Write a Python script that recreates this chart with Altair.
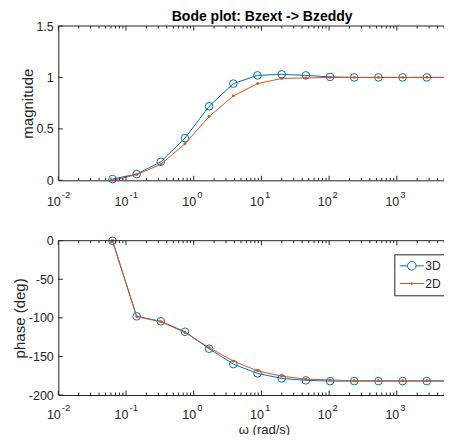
import altair as alt
import pandas as pd

# ---------------- data ----------------
SERIES = ["3D", "2D"]
OMEGA = [0.0631, 0.1436, 0.3268, 0.743, 1.69, 3.85, 8.77, 19.95, 45.4,
         103.4, 235.0, 535.0, 1218.0, 2772.0, 6310.0]
MAG_3D = [0.012, 0.06, 0.18, 0.41, 0.72, 0.94, 1.02, 1.03, 1.02,
          1.005, 1.0, 1.0, 1.0, 1.0, 1.0]
MAG_2D = [0.0, 0.055, 0.155, 0.355, 0.62, 0.82, 0.94, 0.99, 0.995,
          1.0, 1.0, 1.0, 1.0, 1.0, 1.0]
PHASE_3D = [0.0, -98.0, -104.5, -118.0, -140.0, -160.0, -172.0, -178.5, -181.0,
            -182.0, -182.0, -182.0, -182.0, -182.0, -182.0]
PHASE_2D = [0.0, -98.5, -105.0, -119.0, -138.6, -156.0, -168.7, -175.6, -179.5,
            -180.5, -181.5, -181.5, -181.5, -181.5, -181.5]

X_MAJOR = [0.01, 0.1, 1, 10, 100, 1000]
X_TICK_BASE = "10"
X_TICK_EXP = ["-2", "-1", "0", "1", "2", "3"]
X_MINOR = [m * d for d in [0.01, 0.1, 1, 10, 100, 1000] for m in range(2, 10)]
Y_TICKS_MAG = [0, 0.5, 1, 1.5]
Y_TICKS_PHASE = [-200, -150, -100, -50, 0]

TITLE = "Bode plot: Bzext -> Bzeddy"
X_TITLE = "ω (rad/s)"
Y_TITLE_MAG = "magnitude"
Y_TITLE_PHASE = "phase (deg)"

# ---------------- style / layout ----------------
FONT = "Liberation Sans"
BLUE = "#0072BD"
ORANGE = "#D95319"
AX = "#262626"
W = 385.7            # plot width (cut at the window edge like the reference)
X_MAX = 4977         # right end of the visible log axis
TOP0, TOP1 = 0.0, 154.3      # magnitude panel rows
BOT0, BOT1 = 214.7, 369.0    # phase panel rows
HT = BOT1

df = pd.DataFrame({"omega": OMEGA, "mag3d": MAG_3D, "mag2d": MAG_2D,
                   "ph3d": PHASE_3D, "ph2d": PHASE_2D})

xscale = alt.Scale(type="log", domain=[0.01, X_MAX], nice=False)
ys_mag = alt.Scale(domain=[0, 1.5], range=[TOP1, TOP0], nice=False, zero=False)
ys_ph = alt.Scale(domain=[-200, 0], range=[BOT1, BOT0], nice=False, zero=False)

exp_expr = "[" + ",".join("'%s'" % s for s in X_TICK_EXP) + "][round(log(datum.value)/LN10)+2]"


def x_base_axis(offset, pad, title=False):
    kw = dict(orient="bottom", offset=offset, values=X_MAJOR, labelExpr="'%s'" % X_TICK_BASE,
              ticks=False, tickSize=0, domain=True, domainColor=AX, domainWidth=1, grid=False,
              labelPadding=pad, labelBaseline="alphabetic", labelAlign="right", labelOffset=2,
              labelFont=FONT, labelFontSize=12.5, labelColor=AX,
              labelFlush=False, labelOverlap=False)
    if title:
        kw.update(titleFont=FONT, titleFontSize=13, titleFontWeight="normal", titleColor=AX,
                  titleX=205.7, titleY=38, titleAlign="center", titleBaseline="alphabetic")
    return alt.Axis(**kw)


def x_exp_axis(offset, pad):
    return alt.Axis(orient="bottom", offset=offset, values=X_MAJOR, labelExpr=exp_expr,
                    ticks=False, tickSize=0, domain=False, grid=False,
                    labelPadding=pad, labelBaseline="alphabetic", labelAlign="left",
                    labelOffset=3, labelFont=FONT, labelFontSize=9.5, labelColor=AX,
                    labelFlush=False, labelOverlap=False)


def y_axis(values, title_x, title_y):
    return alt.Axis(orient="left", values=values, labelExpr="toString(datum.value)",
                    ticks=False, tickSize=0, domain=True, domainColor=AX, domainWidth=1,
                    grid=False, labelPadding=5, labelFont=FONT, labelFontSize=12.5,
                    labelColor=AX, labelOverlap=False, labelFlush=False,
                    titleFont=FONT, titleFontSize=15, titleFontWeight="normal", titleColor=AX,
                    titleX=title_x, titleY=title_y, titleAngle=270,
                    titleBaseline="alphabetic", titleAlign="center")


def tick_layers(yscale, yvals, r0, r1):
    layers = []
    for vals, ln in [(X_MAJOR, 4.5), (X_MINOR, 2.5)]:
        b = alt.Chart(pd.DataFrame({"v": vals})).mark_rule(color=AX, strokeWidth=1)
        layers.append(b.encode(x=alt.X("v:Q", scale=xscale, axis=None),
                               y=alt.value(r1), y2=alt.value(r1 - ln)))
        layers.append(b.encode(x=alt.X("v:Q", scale=xscale, axis=None),
                               y=alt.value(r0), y2=alt.value(r0 + ln)))
    layers.append(alt.Chart(pd.DataFrame({"v": yvals})).mark_rule(color=AX, strokeWidth=1).encode(
        y=alt.Y("v:Q", scale=yscale, axis=None), x=alt.value(0), x2=alt.value(4.5)))
    # top frame line of the panel
    layers.append(alt.Chart(pd.DataFrame({"v": [0]})).mark_rule(color=AX, strokeWidth=1).encode(
        x=alt.value(0), x2=alt.value(W), y=alt.value(r0)))
    return layers


def series_layers(f3, f2, yscale, yax, ytitle, base_ax, exp_ax, xtitle):
    base = alt.Chart(df)
    l3 = base.mark_line(color=BLUE, strokeWidth=1).encode(
        x=alt.X("omega:Q", scale=xscale, axis=base_ax, title=xtitle),
        y=alt.Y(f3 + ":Q", scale=yscale, axis=yax, title=ytitle))
    p3 = base.mark_point(shape="circle", filled=False, size=58, color=BLUE, strokeWidth=1,
                         opacity=1).encode(
        x=alt.X("omega:Q", scale=xscale, axis=exp_ax, title=None),
        y=alt.Y(f3 + ":Q", scale=yscale, axis=None))
    l2 = base.mark_line(color=ORANGE, strokeWidth=1).encode(
        x=alt.X("omega:Q", scale=xscale, axis=None),
        y=alt.Y(f2 + ":Q", scale=yscale, axis=None))
    p2 = base.mark_circle(size=8, color=ORANGE, opacity=1).encode(
        x=alt.X("omega:Q", scale=xscale, axis=None),
        y=alt.Y(f2 + ":Q", scale=yscale, axis=None))
    return [l3, p3, l2, p2]


# ---------------- legend ----------------
PATH_3D = ("M-1,0H0.283M1.717,0H3M1.717,0A0.717,0.717,0,1,1,0.283,0"
           "A0.717,0.717,0,1,1,1.717,0")
PATH_2D = "M-1,0H3M1.15,0A0.15,0.15,0,1,1,0.85,0A0.15,0.15,0,1,1,1.15,0"

legend = alt.Legend(title=None, orient="none", legendX=336, legendY=BOT0 + 13.6, padding=5,
                    rowPadding=4.7, strokeColor=AX, fillColor="white", cornerRadius=0,
                    symbolSize=144, symbolStrokeWidth=1, symbolFillColor="transparent",
                    symbolOpacity=1, labelOffset=13, labelFont=FONT, labelFontSize=12,
                    labelColor=AX)
leg_layer = alt.Chart(pd.DataFrame({"series": SERIES})).transform_filter("false").mark_point(
    filled=False, opacity=0).encode(
    shape=alt.Shape("series:N", scale=alt.Scale(domain=SERIES, range=[PATH_3D, PATH_2D]),
                    legend=legend),
    stroke=alt.Stroke("series:N", scale=alt.Scale(domain=SERIES, range=[BLUE, ORANGE]),
                      legend=legend),
)

layers = (
    series_layers("mag3d", "mag2d", ys_mag,
                  y_axis(Y_TICKS_MAG, -26.3, (TOP0 + TOP1) / 2), Y_TITLE_MAG,
                  x_base_axis(-(HT - TOP1), 25), x_exp_axis(-(HT - TOP1), 17), None)
    + tick_layers(ys_mag, Y_TICKS_MAG, TOP0, TOP1)
    + series_layers("ph3d", "ph2d", ys_ph,
                    y_axis(Y_TICKS_PHASE, -33.8, (BOT0 + BOT1) / 2), Y_TITLE_PHASE,
                    x_base_axis(0, 23, title=True), x_exp_axis(0, 15), X_TITLE)
    + tick_layers(ys_ph, Y_TICKS_PHASE, BOT0, BOT1)
    + [leg_layer]
)

chart = alt.layer(*layers).resolve_scale(y="independent").resolve_axis(
    x="independent", y="independent"
).properties(
    width=W, height=HT,
    autosize=alt.AutoSizeParams(type="none"),
    padding={"left": 50.3, "top": 18, "right": 0, "bottom": 40},
    background="white",
    title=alt.TitleParams(TITLE, font=FONT, fontSize=14, fontWeight="bold", color="black",
                          anchor="middle", frame="group", offset=-14.5, dx=11,
                          baseline="alphabetic"),
).configure_view(strokeWidth=0)

chart.save("out.html", embed_options={"renderer": "svg", "actions": False})
